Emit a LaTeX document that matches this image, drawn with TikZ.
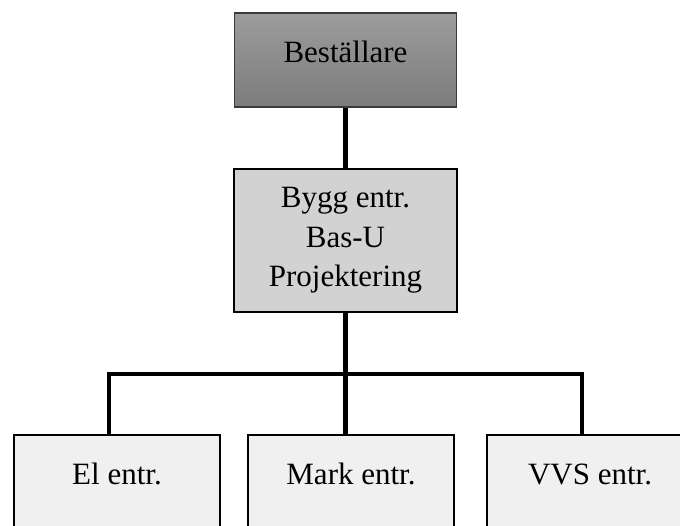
\documentclass[tikz,border=0pt]{standalone}
\usepackage{fontspec}
\setmainfont{Liberation Serif}
\usepackage{tikz}
\usetikzlibrary{positioning, calc}
\definecolor{bosstop}{HTML}{9C9C9C}
\definecolor{bossbot}{HTML}{7C7C7C}
\definecolor{bossline}{HTML}{3A3A3A}
\definecolor{mainfill}{HTML}{D2D2D2}
\definecolor{subfill}{HTML}{F0F0F0}
\tikzset{orgtext/.style={font=\fontsize{31}{39.5}\selectfont, align=center, inner sep=0pt},
    onerow/.style={text height=21pt, text depth=16pt},
    boss/.style={orgtext, onerow, draw=bossline, line width=1.5pt, top color=bosstop, bottom color=bossbot, minimum width=222pt, minimum height=94pt},
    mainbox/.style={orgtext, draw=black, line width=2pt, fill=mainfill, minimum width=223pt, minimum height=143pt},
    subbox/.style={orgtext, onerow, draw=black, line width=1.5pt, fill=subfill, minimum width=206pt, minimum height=94pt},
    link/.style={line width=4.5pt, line cap=rect}}

\begin{document}
\begin{tikzpicture}[x=1pt, y=-1pt]
    \useasboundingbox (0,0) rectangle (680,525);
    \clip (0,0) rectangle (680,525);
    % boxes
    \node[boss] (best) at (345.5,60) {Beställare};
    \node[mainbox] (bygg) at (345.5,240.5) {Bygg entr.\\Bas-U\\Projektering};
    \node[subbox] (el) at (117,482) {El entr.};
    \node[subbox] (mark) at (351,482) {Mark entr.};
    \node[subbox] (vvs) at (590,482) {VVS entr.};
    % lines
    \coordinate (busL) at (109,374);
    \coordinate (busR) at (582,374);
    \draw[link, line cap=butt] (best.south) -- (bygg.north);
    \draw[link, line cap=butt] (bygg.south) -- (bygg.south |- busL);
    \draw[link, line cap=butt] (bygg.south |- busL) -- (bygg.south |- mark.north);
    \draw[link, line cap=butt, line join=miter] (busL |- el.north) -- (busL) -- (busR) -- (busR |- vvs.north);
\end{tikzpicture}
\end{document}
